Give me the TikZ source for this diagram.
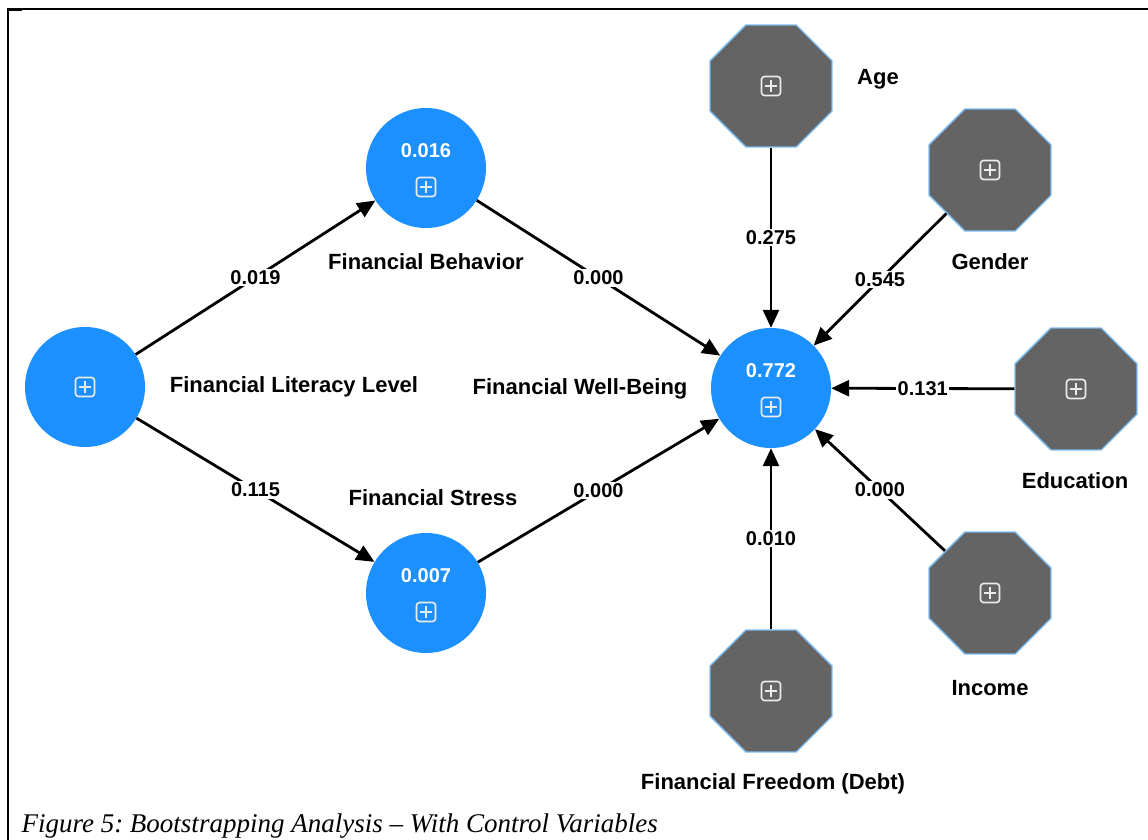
\documentclass[tikz,border=0pt]{standalone}
\usepackage{fontspec}
\setmainfont{Liberation Serif}
\setsansfont{Liberation Sans}
\usepackage{tikz}
\usetikzlibrary{shapes.geometric,arrows.meta}
\definecolor{lvblue}{RGB}{28,144,255}
\definecolor{ctrlgray}{RGB}{100,100,100}
\definecolor{ctrledge}{RGB}{125,188,240}
\definecolor{iconwhite}{RGB}{235,235,235}
\frenchspacing

\begin{document}
\begin{tikzpicture}[x=1pt,y=-1pt,
  latent/.style={circle,fill=lvblue,minimum size=120pt,inner sep=0pt},
  control/.style={regular polygon,regular polygon sides=8,fill=ctrlgray,
    draw=ctrledge,line width=1.4pt,minimum size=132pt,inner sep=0pt},
  plusbox/.style={draw=iconwhite,line width=1.6pt,rounded corners=3pt,
    minimum size=19pt,inner sep=0pt,
    path picture={\draw[iconwhite,line width=1.6pt]
      ([xshift=-6pt]path picture bounding box.center) -- ([xshift=6pt]path picture bounding box.center)
      ([yshift=-6pt]path picture bounding box.center) -- ([yshift=6pt]path picture bounding box.center);}},
  lbl/.style={font=\sffamily\bfseries\fontsize{22}{26}\selectfont},
  num/.style={font=\sffamily\bfseries\fontsize{20}{24}\selectfont},
  val/.style={num,text=white},
  elbl/.style={num,fill=white,inner sep=1.5pt},
  arr/.style={-{Triangle[length=18pt,width=16pt]},line width=2.8pt}]
  \useasboundingbox (0,0) rectangle (1148,840);
  % frame
  \draw[line width=2pt] (8,840) -- (8,9) -- (1148,9);
  \draw[line width=3pt] (8,10) -- (22,10);
  % latent variables
  \node[latent] (fll) at (85,387) {};
  \node[plusbox] (fllp) at (fll.center) {};
  \node[latent] (fb) at (426,168) {};
  \node[val] (fbv) at ([yshift=17pt]fb.center) {0.016};
  \node[plusbox] (fbp) at ([yshift=-19pt]fb.center) {};
  \node[latent] (fs) at (426,593) {};
  \node[val] (fsv) at ([yshift=17pt]fs.center) {0.007};
  \node[plusbox] (fsp) at ([yshift=-19pt]fs.center) {};
  \node[latent] (fwb) at (771,388) {};
  \node[val] (fwbv) at ([yshift=17pt]fwb.center) {0.772};
  \node[plusbox] (fwbp) at ([yshift=-19pt]fwb.center) {};
  % control variables
  \node[control] (age) at (771,86) {};
  \node[plusbox] (agep) at (age.center) {};
  \node[control] (gender) at (990,170) {};
  \node[plusbox] (genderp) at (gender.center) {};
  \node[control] (edu) at (1076,389) {};
  \node[plusbox] (edup) at (edu.center) {};
  \node[control] (income) at (990,593) {};
  \node[plusbox] (incomep) at (income.center) {};
  \node[control] (ffd) at (771,691) {};
  \node[plusbox] (ffdp) at (ffd.center) {};
  % names
  \node[lbl] (fllt) at (294,387) {Financial Literacy Level};
  \node[lbl] (fbt) at (426,262) {Financial Behavior};
  \node[lbl] (fst) at (433,498) {Financial Stress};
  \node[lbl] (fwbt) at (580,389) {Financial Well-Being};
  \node[lbl] (aget) at (878,79) {Age};
  \node[lbl] (gendert) at (990,262) {Gender};
  \node[lbl] (edut) at (1075,481) {Education};
  \node[lbl] (incomet) at (990,688) {Income};
  \node[lbl] (ffdt) at (773,784) {Financial Freedom (Debt)};
  % paths
  \draw[arr] (fll) -- node[elbl] {0.019} (fb);
  \draw[arr] (fll) -- node[elbl] {0.115} (fs);
  \draw[arr] (fb) -- node[elbl] {0.000} (fwb);
  \draw[arr] (fs) -- node[elbl] {0.000} (fwb);
  \draw[arr] (age) -- node[elbl] {0.275} (fwb);
  \draw[arr] (gender) -- node[elbl] {0.545} (fwb);
  \draw[arr] (edu) -- node[elbl] {0.131} (fwb);
  \draw[arr] (income) -- node[elbl] {0.000} (fwb);
  \draw[arr] (ffd) -- node[elbl] {0.010} (fwb);
  % caption
  \node[anchor=west,font=\itshape\fontsize{27}{31}\selectfont] (cap) at (18,826)
    {Figure 5: Bootstrapping Analysis -- With Control Variables};
\end{tikzpicture}
\end{document}
